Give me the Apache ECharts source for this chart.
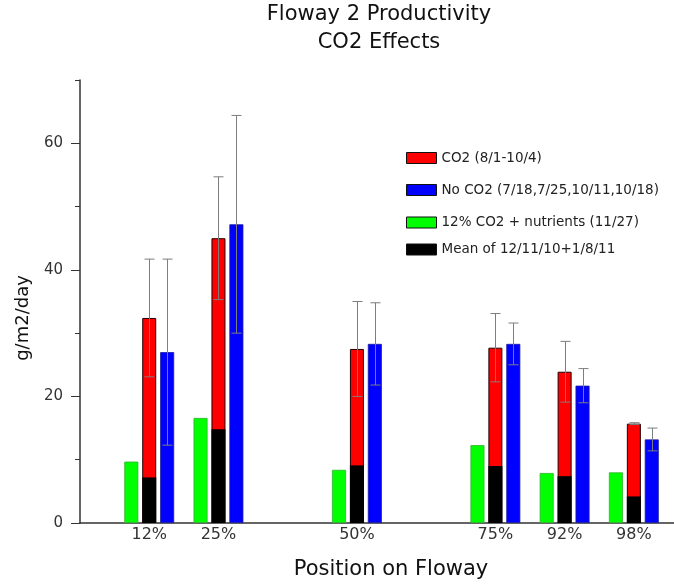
<!DOCTYPE html>
<html>
<head>
<meta charset="utf-8">
<script src="https://cdn.jsdelivr.net/npm/echarts@6/dist/echarts.min.js"></script>
<style>
  html, body { margin: 0; padding: 0; background: #fff; }
  #chart { width: 674px; height: 584px; }
</style>
</head>
<body>
<div id="chart"></div>
<script>
// position index on the x axis (0 = y axis), and its label
const positions = [1, 2, 4, 6, 7, 8];
const posLabels = ['12%', '25%', '50%', '75%', '92%', '98%'];

const greenVals = [9.7, 16.6, 8.4, 12.3, 7.9, 8.0];
const redVals = [32.4, 45.0, 27.5, 27.7, 23.9, 15.7];
const redErr = [9.3, 9.7, 7.5, 5.4, 4.8, 0.15];
const blueVals = [27.0, 47.2, 28.3, 28.3, 21.7, 13.2];
const blueErr = [14.7, 17.2, 6.5, 3.3, 2.7, 1.8];
const blackVals = [7.2, 14.8, 9.1, 9.0, 7.4, 4.2];

const yMajorTicks = [0, 20, 40, 60];
const yMinorTicks = [10, 30, 50, 70];

const names = {
  red: 'CO2 (8/1-10/4)',
  blue: 'No CO2 (7/18,7/25,10/11,10/18)',
  green: '12% CO2 + nutrients (11/27)',
  black: 'Mean of 12/11/10+1/8/11'
};

const FONT = "'DejaVu Sans', sans-serif";

const chart = echarts.init(document.getElementById('chart'));

function pairs(vals) {
  return positions.map((p, i) => [p, vals[i]]);
}

function errorBars(vals, errs, shift) {
  return {
    type: 'custom',
    xAxisIndex: 0,
    yAxisIndex: 0,
    z: 5,
    silent: true,
    encode: { x: 0, y: [1, 2] },
    data: positions.map((p, i) => [p, vals[i] - errs[i], vals[i] + errs[i]]),
    renderItem: function (params, api) {
      const lo = api.coord([api.value(0), api.value(1)]);
      const hi = api.coord([api.value(0), api.value(2)]);
      const x = Math.round(lo[0] + shift) + 0.5;
      const style = { stroke: '#7d7d7d', lineWidth: 1 };
      return {
        type: 'group',
        children: [
          { type: 'line', shape: { x1: x, y1: lo[1], x2: x, y2: hi[1] }, style: style },
          { type: 'line', shape: { x1: x - 5, y1: hi[1], x2: x + 5, y2: hi[1] }, style: style },
          { type: 'line', shape: { x1: x - 5, y1: lo[1], x2: x + 5, y2: lo[1] }, style: style }
        ]
      };
    }
  };
}

function legendAt(name, top) {
  return {
    data: [name],
    left: 406,
    top: top,
    padding: 0,
    itemWidth: 30,
    itemHeight: 11,
    icon: 'rect',
    selectedMode: false,
    itemStyle: { borderColor: '#111', borderWidth: 1 },
    textStyle: { fontFamily: FONT, fontSize: 13.5, color: '#222' }
  };
}

const xBase = {
  type: 'value',
  min: 0,
  max: 8.58,
  interval: 1,
  splitLine: { show: false }
};

const option = {
  animation: false,
  backgroundColor: '#fff',
  title: {
    text: 'Floway 2 Productivity\nCO2 Effects',
    left: 379,
    top: 1,
    padding: 0,
    textAlign: 'center',
    textStyle: {
      fontFamily: FONT,
      fontSize: 21,
      fontWeight: 'normal',
      lineHeight: 28,
      color: '#111'
    }
  },
  legend: [
    legendAt(names.red, 151),
    legendAt(names.blue, 183),
    legendAt(names.green, 215.5),
    legendAt(names.black, 242.5)
  ],
  grid: { left: 80, right: 0, top: 80, bottom: 61 },
  xAxis: [
    Object.assign({}, xBase, {
      axisLine: { lineStyle: { color: '#333', width: 1.5 } },
      axisTick: { show: false },
      axisLabel: {
        customValues: positions,
        margin: 4,
        fontFamily: FONT,
        fontSize: 16,
        color: '#333',
        formatter: function (v) {
          const i = positions.indexOf(v);
          return i >= 0 ? posLabels[i] : '';
        }
      }
    }),
    Object.assign({}, xBase, { show: false })
  ],
  yAxis: [
    {
      type: 'value',
      min: 0,
      max: 70,
      position: 'left',
      splitLine: { show: false },
      axisLine: { show: true, lineStyle: { color: '#333', width: 1.5 } },
      axisTick: { show: true, length: 9, customValues: yMajorTicks, lineStyle: { color: '#333' } },
      axisLabel: {
        customValues: yMajorTicks,
        margin: 17,
        fontFamily: FONT,
        fontSize: 15,
        color: '#333'
      }
    },
    {
      type: 'value',
      min: 0,
      max: 70,
      position: 'left',
      splitLine: { show: false },
      axisLine: { show: false },
      axisTick: { show: true, length: 5, customValues: yMinorTicks, lineStyle: { color: '#333' } },
      axisLabel: { show: false }
    }
  ],
  graphic: [
    {
      type: 'text',
      x: 391,
      y: 570,
      style: {
        text: 'Position on Floway',
        align: 'center',
        verticalAlign: 'middle',
        font: '21px ' + FONT,
        fill: '#111'
      }
    },
    {
      type: 'text',
      x: 23,
      y: 318,
      rotation: Math.PI / 2,
      style: {
        text: 'g/m2/day',
        align: 'center',
        verticalAlign: 'middle',
        font: '18px ' + FONT,
        fill: '#111'
      }
    }
  ],
  series: [
    {
      name: names.green,
      type: 'bar',
      xAxisIndex: 0,
      barWidth: 14,
      barGap: '28%',
      data: pairs(greenVals),
      itemStyle: { color: '#00ff00', borderColor: '#2fb32f', borderWidth: 0.8 }
    },
    {
      name: names.red,
      type: 'bar',
      xAxisIndex: 0,
      barWidth: 14,
      barGap: '28%',
      data: pairs(redVals),
      itemStyle: { color: '#ff0000', borderColor: '#220000', borderWidth: 1 }
    },
    {
      name: names.blue,
      type: 'bar',
      xAxisIndex: 0,
      barWidth: 14,
      barGap: '28%',
      data: pairs(blueVals),
      itemStyle: { color: '#0000ff', borderColor: '#1a1aa0', borderWidth: 0.8 }
    },
    {
      name: names.black,
      type: 'bar',
      xAxisIndex: 1,
      barWidth: 14,
      z: 3,
      data: pairs(blackVals),
      itemStyle: { color: '#000000' }
    },
    errorBars(redVals, redErr, 0),
    errorBars(blueVals, blueErr, 18)
  ]
};

chart.setOption(option);
</script>
</body>
</html>
